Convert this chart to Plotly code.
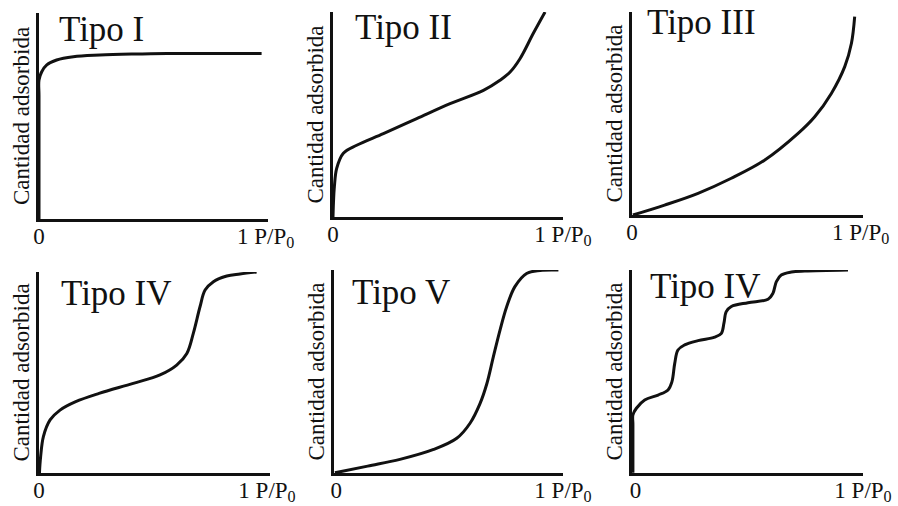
import plotly.graph_objects as go

W, H = 898, 506

# ---- data (x = P/P0, y = relative amount adsorbed) ----
titles = ["Tipo I", "Tipo II", "Tipo III", "Tipo IV", "Tipo V", "Tipo IV"]
y_title = "Cantidad adsorbida"
x_tick_vals = [[0, 0.99], [0, 1.0], [0, 0.99], [0, 0.987], [0.01, 1.0], [0.015, 1.0]]
x_tick_text = ["0", "1 P/P<sub>0</sub>"]

x1 = [0, 0, 0, 0.0, 0.012, 0.034, 0.077, 0.150, 0.266, 0.410, 0.559, 0.972]
y1 = [0, 0.3, 0.6, 0.675, 0.715, 0.748, 0.772, 0.788, 0.796, 0.801, 0.804, 0.804]

x2 = [0, 0.002, 0.006, 0.016, 0.045, 0.103, 0.219, 0.364, 0.509, 0.654, 0.726, 0.770, 0.813, 0.871, 0.922]
y2 = [0, 0.07, 0.148, 0.237, 0.311, 0.350, 0.407, 0.480, 0.553, 0.618, 0.667, 0.707, 0.772, 0.896, 1.0]

x3 = [0.004, 0.141, 0.286, 0.430, 0.575, 0.719, 0.791, 0.863, 0.921, 0.950, 0.964]
y3 = [0, 0.049, 0.107, 0.181, 0.271, 0.402, 0.484, 0.599, 0.731, 0.846, 0.977]

x4 = [0.002, 0.004, 0.007, 0.019, 0.048, 0.091, 0.159, 0.260, 0.408, 0.524, 0.596, 0.640, 0.668,
      0.697, 0.719, 0.755, 0.813, 0.870, 0.942]
y4 = [0, 0.04, 0.081, 0.181, 0.264, 0.313, 0.355, 0.396, 0.446, 0.488, 0.537, 0.595, 0.695,
      0.827, 0.910, 0.952, 0.980, 0.990, 1.0]

x5 = [0.004, 0.147, 0.288, 0.435, 0.536, 0.594, 0.638, 0.668, 0.696, 0.725, 0.754,
      0.790, 0.841, 0.900, 0.980]
y5 = [0.001, 0.034, 0.067, 0.116, 0.171, 0.245, 0.343, 0.442, 0.573, 0.704, 0.819,
      0.918, 0.983, 0.998, 1.0]

x6 = [0.004, 0.004, 0.004, 0.004, 0.019, 0.055, 0.113, 0.156, 0.173, 0.185, 0.199, 0.228, 0.286,
      0.358, 0.387, 0.398, 0.408, 0.430, 0.502, 0.589, 0.610, 0.625, 0.646, 0.690,
      0.748, 0.935]
y6 = [0.001, 0.12, 0.24, 0.286, 0.319, 0.360, 0.384, 0.409, 0.450, 0.540, 0.606, 0.631, 0.652,
      0.669, 0.688, 0.738, 0.795, 0.820, 0.839, 0.856, 0.885, 0.943, 0.975, 0.990,
      0.995, 1.0]

curves = [(x1, y1), (x2, y2), (x3, y3), (x4, y4), (x5, y5), (x6, y6)]

# ---- layout geometry (pixels) ----
boxes = [  # x_left, x_right, y_top, y_bottom
    (39, 268, 13, 219),
    (333, 563, 12, 217),
    (632, 863, 12, 215),
    (39, 270, 272, 473),
    (334, 563, 270, 473),
    (632, 863, 270, 473),
]
title_pos = [  # left x, cap-centre y (px)
    (57, 30), (353, 27), (645, 23), (59, 293), (350, 292), (648, 286),
]

FONT = "Liberation Serif"
INK = "#111111"

fig = go.Figure()
layout = dict(
    width=W, height=H, margin=dict(l=0, r=0, t=0, b=0),
    paper_bgcolor="white", plot_bgcolor="white", showlegend=False,
    font=dict(family=FONT, color=INK),
)
annotations = []
for i, ((xs, ys), (xl, xr, yt, yb)) in enumerate(zip(curves, boxes)):
    n = "" if i == 0 else str(i + 1)
    fig.add_trace(go.Scatter(
        x=xs, y=ys, mode="lines", xaxis="x" + n, yaxis="y" + n,
        line=dict(color=INK, width=3, shape="spline", smoothing=1.0),
        hoverinfo="skip",
    ))
    layout["xaxis" + n] = dict(
        domain=[xl / W, xr / W], anchor="y" + n, range=[0, 1.0],
        showgrid=False, zeroline=False, showline=True, linecolor=INK, linewidth=3,
        ticks="", tickvals=x_tick_vals[i], ticktext=x_tick_text,
        tickfont=dict(family=FONT, size=23, color=INK), automargin=False,
        ticklabelstandoff=-6,
    )
    layout["yaxis" + n] = dict(
        domain=[1 - yb / H, 1 - yt / H], anchor="x" + n, range=[0, 1.0],
        showgrid=False, zeroline=False, showline=True, linecolor=INK, linewidth=3,
        ticks="", showticklabels=False, automargin=False,
        title=dict(text=y_title, font=dict(family=FONT, size=23, color=INK), standoff=0),
    )
    tx, ty = title_pos[i]
    annotations.append(dict(
        text=titles[i], xref="paper", yref="paper", x=tx / W, y=1 - ty / H,
        xanchor="left", yanchor="middle", showarrow=False,
        font=dict(family=FONT, size=35, color=INK),
    ))
layout["annotations"] = annotations
fig.update_layout(**layout)
fig.write_html(
    "out.html",
    config={"displayModeBar": False},
    post_script="document.body.style.margin='0';document.body.style.overflow='hidden';",
)
